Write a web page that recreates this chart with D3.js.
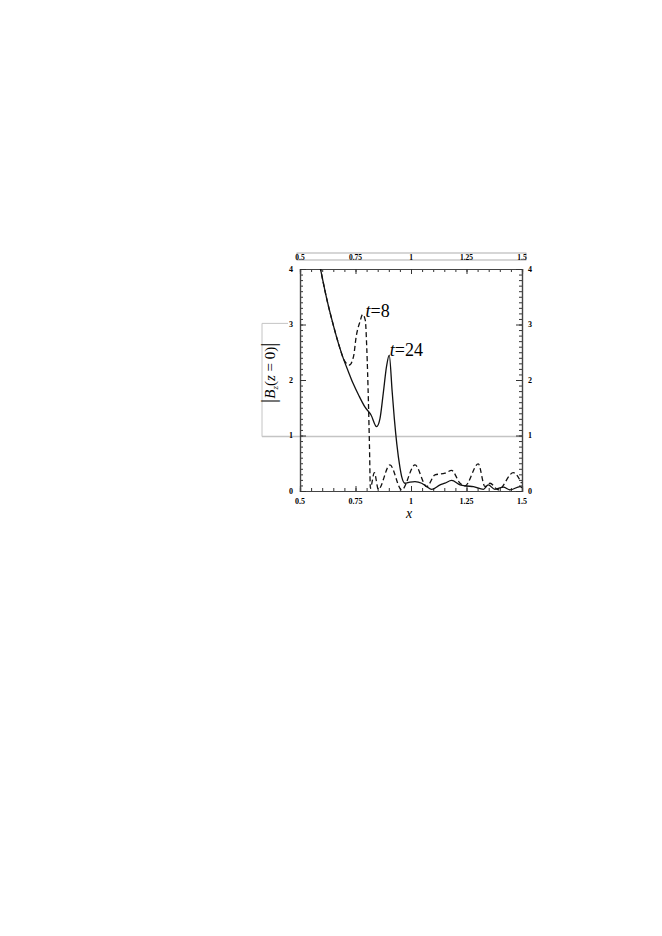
<!DOCTYPE html>
<html>
<head>
<meta charset="utf-8">
<script src="https://cdn.jsdelivr.net/npm/d3@7"></script>
<style>
  body { margin: 0; background: #fff; }
  text { font-family: "Liberation Serif", "Times New Roman", "DejaVu Serif", serif; fill: #000; }
</style>
</head>
<body>
<div id="vis"></div>
<script>
// axis ticks
var xTicks = [0.5, 0.75, 1, 1.25, 1.5];
var xTickLabels = ["0.5", "0.75", "1", "1.25", "1.5"];
var yTicks = [0, 1, 2, 3, 4];

// |Bz(z=0)| at t=24 (solid)
var xT24 = [0.59, 0.620, 0.650, 0.680, 0.695, 0.718, 0.739, 0.765, 0.793, 0.820, 0.845, 0.860, 0.875, 0.890, 0.902, 0.915, 0.925, 0.936, 0.950, 0.958, 0.973, 0.995, 1.018, 1.048, 1.070, 1.093, 1.131, 1.153, 1.183, 1.221, 1.251, 1.281, 1.326, 1.348, 1.378, 1.416, 1.446, 1.491, 1.5];
var yT24 = [4.05, 3.47, 2.99, 2.57, 2.39, 2.15, 1.94, 1.72, 1.51, 1.37, 1.16, 1.30, 1.76, 2.25, 2.45, 1.80, 1.30, 0.85, 0.43, 0.26, 0.14, 0.16, 0.17, 0.14, 0.08, 0.03, 0.11, 0.14, 0.19, 0.11, 0.09, 0.08, 0.03, 0.11, 0.03, 0.07, 0.02, 0.08, 0.06];

// |Bz(z=0)| at t=8 (dashed)
var xT8 = [0.59, 0.620, 0.650, 0.680, 0.695, 0.703, 0.722, 0.741, 0.753, 0.770, 0.782, 0.794, 0.801, 0.808, 0.813, 0.817, 0.835, 0.853, 0.905, 0.958, 1.018, 1.071, 1.108, 1.153, 1.183, 1.221, 1.243, 1.303, 1.333, 1.356, 1.393, 1.461, 1.498];
var yT8 = [4.05, 3.47, 2.99, 2.57, 2.39, 2.33, 2.27, 2.42, 2.78, 3.05, 3.18, 3.08, 2.55, 1.64, 0.80, 0.05, 0.33, 0.03, 0.47, 0.02, 0.47, 0.08, 0.29, 0.32, 0.37, 0.14, 0.09, 0.49, 0.08, 0.14, 0.02, 0.33, 0.14];

var seriesNames = ["t=24", "t=8"];

var width = 662, height = 936;
var pLeft = 300, pRight = 522, pTop = 269, pBottom = 491;

var svg = d3.select("#vis").append("svg")
    .attr("width", width)
    .attr("height", height);

var x = d3.scaleLinear().domain([0.5, 1.5]).range([pLeft, pRight]);
var y = d3.scaleLinear().domain([0, 4]).range([pBottom, pTop]);

// grey decorations round the y label and the level line
var grey = "#c4c4c4";
svg.append("line")
    .attr("x1", 262).attr("x2", pRight)
    .attr("y1", y(0.98)).attr("y2", y(0.98))
    .attr("stroke", grey).attr("stroke-width", 1.5);
svg.append("line")
    .attr("x1", 262).attr("x2", 262)
    .attr("y1", y(3.02)).attr("y2", y(0.98))
    .attr("stroke", grey).attr("stroke-width", 1);
svg.append("line")
    .attr("x1", 262).attr("x2", 288)
    .attr("y1", y(3.02)).attr("y2", y(3.02))
    .attr("stroke", grey).attr("stroke-width", 1);

// top label strip
svg.append("rect")
    .attr("x", pLeft - 3).attr("y", 253)
    .attr("width", pRight - pLeft + 7).attr("height", 7)
    .attr("fill", "none").attr("stroke", "#999").attr("stroke-width", 0.8);

var xMinor = d3.range(0.5, 1.5001, 0.05);
var yMinor = d3.range(0, 4.0001, 0.1);

function fmtX(d) {
    var i = xTicks.indexOf(d);
    return i >= 0 ? xTickLabels[i] : "";
}

// bottom / top axes (inward ticks)
svg.append("g").attr("transform", "translate(0," + pBottom + ")")
    .call(d3.axisTop(x).tickValues(xMinor).tickSize(3).tickFormat(""));
svg.append("g").attr("transform", "translate(0," + pBottom + ")")
    .call(d3.axisTop(x).tickValues(xTicks).tickSize(5).tickFormat(""));
svg.append("g").attr("transform", "translate(0," + pTop + ")")
    .call(d3.axisBottom(x).tickValues(xMinor).tickSize(3).tickFormat(""));
svg.append("g").attr("transform", "translate(0," + pTop + ")")
    .call(d3.axisBottom(x).tickValues(xTicks).tickSize(5).tickFormat(""));

// left / right axes (inward ticks)
svg.append("g").attr("transform", "translate(" + pLeft + ",0)")
    .call(d3.axisRight(y).tickValues(yMinor).tickSize(3).tickFormat(""));
svg.append("g").attr("transform", "translate(" + pLeft + ",0)")
    .call(d3.axisRight(y).tickValues(yTicks).tickSize(6).tickFormat(""));
svg.append("g").attr("transform", "translate(" + pRight + ",0)")
    .call(d3.axisLeft(y).tickValues(yMinor).tickSize(3).tickFormat(""));
svg.append("g").attr("transform", "translate(" + pRight + ",0)")
    .call(d3.axisLeft(y).tickValues(yTicks).tickSize(6).tickFormat(""));

svg.selectAll(".domain").attr("stroke", "#444").attr("stroke-width", 1.2);
svg.selectAll(".tick line").attr("stroke", "#333");

// tick labels
svg.selectAll(".xlab-b").data(xTicks).enter().append("text")
    .attr("x", function (d) { return x(d); })
    .attr("y", pBottom + 13)
    .attr("text-anchor", "middle")
    .attr("font-size", 8).attr("font-weight", "bold")
    .text(fmtX);
svg.selectAll(".xlab-t").data(xTicks).enter().append("text")
    .attr("x", function (d) { return x(d); })
    .attr("y", 259.5)
    .attr("text-anchor", "middle")
    .attr("font-size", 7.5).attr("font-weight", "bold")
    .text(fmtX);
svg.selectAll(".ylab-l").data(yTicks).enter().append("text")
    .attr("x", pLeft - 7)
    .attr("y", function (d) { return y(d) + 2.5; })
    .attr("text-anchor", "end")
    .attr("font-size", 8).attr("font-weight", "bold")
    .text(function (d) { return d; });
svg.selectAll(".ylab-r").data(yTicks).enter().append("text")
    .attr("x", pRight + 6)
    .attr("y", function (d) { return y(d) + 2.5; })
    .attr("font-size", 8).attr("font-weight", "bold")
    .text(function (d) { return d; });

// curves
svg.append("clipPath").attr("id", "plot")
    .append("rect").attr("x", pLeft).attr("y", pTop)
    .attr("width", pRight - pLeft).attr("height", pBottom - pTop);

var line = d3.line()
    .x(function (d) { return x(d[0]); })
    .y(function (d) { return y(d[1]); })
    .curve(d3.curveMonotoneX);

var solid = d3.zip(xT24, yT24);
var dashed = d3.zip(xT8, yT8);

svg.append("path").datum(dashed)
    .attr("clip-path", "url(#plot)")
    .attr("d", line)
    .attr("fill", "none").attr("stroke", "#111")
    .attr("stroke-width", 1.3).attr("stroke-dasharray", "5,3");
svg.append("path").datum(solid)
    .attr("clip-path", "url(#plot)")
    .attr("d", line)
    .attr("fill", "none").attr("stroke", "#111")
    .attr("stroke-width", 1.3);

// curve labels near their peaks
function curveLabel(xs, ys, name, dx, dy) {
    var i = d3.maxIndex(ys.map(function (v, k) { return xs[k] > 0.7 ? v : -1; }));
    var parts = name.split("=");
    var t = svg.append("text")
        .attr("x", x(xs[i]) + dx)
        .attr("y", y(ys[i]) + dy)
        .attr("font-size", 18);
    t.append("tspan").attr("font-style", "italic").text(parts[0]);
    t.append("tspan").text("=" + parts[1]);
}
curveLabel(xT8, yT8, seriesNames[1], 3, 2.5);
curveLabel(xT24, yT24, seriesNames[0], 0.5, 0.5);

// axis titles
svg.append("text")
    .attr("x", 409).attr("y", 518)
    .attr("text-anchor", "middle")
    .attr("font-size", 14).attr("font-style", "italic")
    .text("x");

var yt = svg.append("text")
    .attr("transform", "translate(275," + y(2.13) + ") rotate(-90)")
    .attr("text-anchor", "middle")
    .attr("font-size", 15);
yt.append("tspan").attr("font-size", 21).text("|");
yt.append("tspan").attr("font-style", "italic").text("B");
yt.append("tspan").attr("font-style", "italic").attr("font-size", 9).attr("dy", 3).text("z");
yt.append("tspan").attr("dy", -3).text("(");
yt.append("tspan").attr("font-style", "italic").text("z");
yt.append("tspan").text(" = 0)");
yt.append("tspan").attr("font-size", 21).text("|");
</script>
</body>
</html>
